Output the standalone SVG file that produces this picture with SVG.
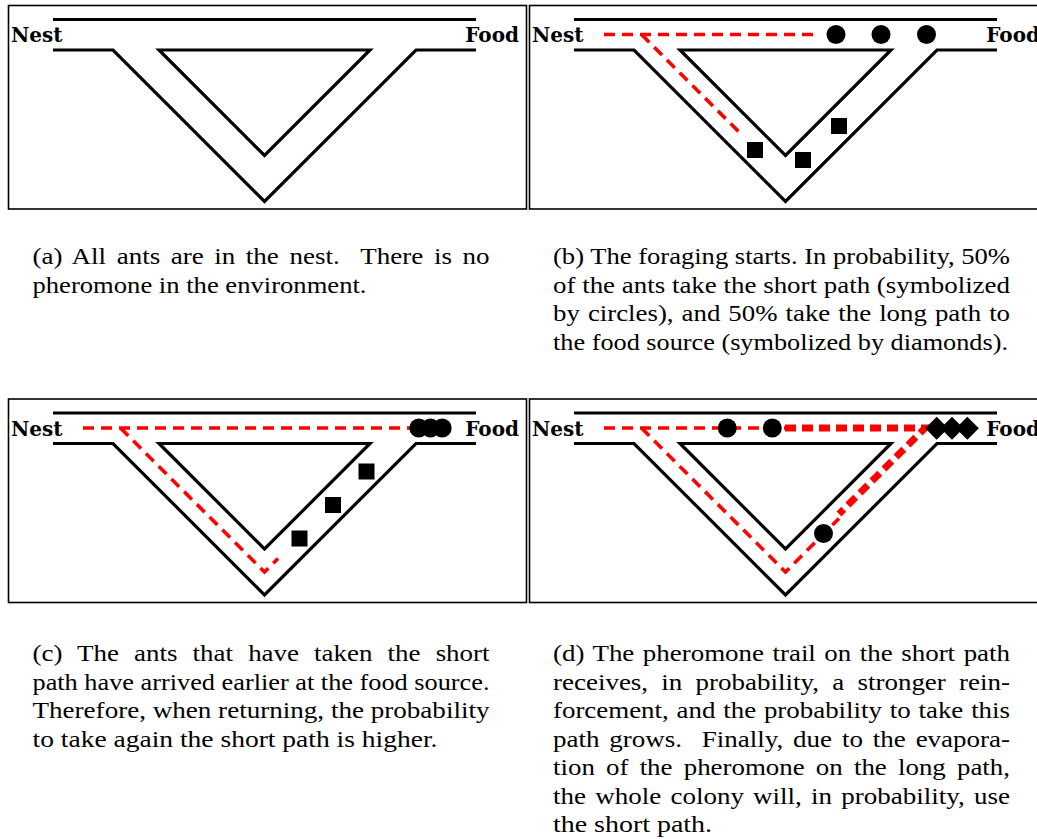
<svg xmlns="http://www.w3.org/2000/svg" width="1037" height="839" viewBox="0 0 1037 839">
<style>
.bg{fill:#fff}
.frame{fill:none;stroke:#000;stroke-width:1.6}
.wall{fill:none;stroke:#000;stroke-width:3.2;stroke-linejoin:miter;stroke-miterlimit:10}
.trail{fill:none;stroke:#f00;stroke-width:3.6;stroke-dasharray:11 7}
.trail-strong{fill:none;stroke:#f00;stroke-width:7;stroke-dasharray:11 6}
.ant{fill:#000}
.lbl{font-family:"DejaVu Serif","Liberation Serif",serif;font-weight:bold;font-size:20px;fill:#000}
.cap{font-family:"Liberation Serif","Times New Roman",serif;font-size:24px;fill:#000}
</style>
<defs>
<g id="track">
<rect class="frame" x="8.5" y="5.5" width="518" height="203.5"/>
<path class="wall" d="M53 19.5H476"/>
<path class="wall" d="M53 50H113L264.5 201.5L416 50H476"/>
<path class="wall" d="M159 50H370L264.5 155.5Z"/>
</g>
<rect id="sq" x="-8" y="-8" width="16" height="16"/>
<circle id="circ" r="9.5"/>
<path id="dia" d="M0 -11.5L11.5 0L0 11.5L-11.5 0Z"/>
</defs>
<rect class="bg" x="0" y="0" width="1037" height="839"/>

<g id="panel-a">
<use href="#track"/>
<text class="lbl" x="11" y="42">Nest</text>
<text class="lbl" x="519" y="42" text-anchor="end">Food</text>
</g>

<g id="panel-b" transform="translate(521,0)">
<use href="#track"/>
<text class="lbl" x="11" y="42">Nest</text>
<text class="lbl" x="519" y="42" text-anchor="end">Food</text>
<g id="trails-b">
<path class="trail" d="M83 34.5H294M120.5 34.5L219 133"/>
</g>
<g id="ants-b" class="ant">
<use href="#circ" x="315" y="34.5"/>
<use href="#circ" x="360" y="34.5"/>
<use href="#circ" x="405.5" y="34.5"/>
<use href="#sq" x="234" y="150"/>
<use href="#sq" x="282" y="160"/>
<use href="#sq" x="318" y="126"/>
</g>
</g>

<g id="panel-c" transform="translate(0,393.5)">
<use href="#track"/>
<text class="lbl" x="11" y="42">Nest</text>
<text class="lbl" x="519" y="42" text-anchor="end">Food</text>
<g id="trails-c">
<path class="trail" d="M83 34.5H410M120.5 34.5L264.5 178.5L278 165"/>
</g>
<g id="ants-c" class="ant">
<use href="#circ" x="418.8" y="34.5"/>
<use href="#circ" x="430.5" y="34.5"/>
<use href="#circ" x="442.2" y="34.5"/>
<use href="#sq" x="366.5" y="78"/>
<use href="#sq" x="333" y="111.5"/>
<use href="#sq" x="299.5" y="145"/>
</g>
</g>

<g id="panel-d" transform="translate(521,393.5)">
<use href="#track"/>
<text class="lbl" x="11" y="42">Nest</text>
<text class="lbl" x="519" y="42" text-anchor="end">Food</text>
<g id="trails-d">
<path class="trail" d="M83 34.5H266M120.5 34.5L264.5 178.5L318 125"/>
<path class="trail-strong" d="M264 34.5H404L318 120.5"/>
</g>
<g id="ants-d" class="ant">
<use href="#circ" x="206.3" y="34.5"/>
<use href="#circ" x="251.3" y="34.5"/>
<use href="#circ" x="302.5" y="140"/>
<use href="#dia" x="415.7" y="34.8"/>
<use href="#dia" x="431" y="34.8"/>
<use href="#dia" x="446.3" y="34.8"/>
</g>
</g>

<g id="captions" class="cap">
<g id="caption-a">
<text x="32.5" y="264" textLength="457" lengthAdjust="spacingAndGlyphs" style="word-spacing:3.4px">(a) All ants are in the nest.&#160; There is no</text>
<text x="32.5" y="292.5" textLength="334" lengthAdjust="spacingAndGlyphs">pheromone in the environment.</text>
</g>
<g id="caption-b">
<text x="553" y="264" textLength="457" lengthAdjust="spacingAndGlyphs">(b) The foraging starts. In probability, 50%</text>
<text x="553" y="292.5" textLength="457" lengthAdjust="spacingAndGlyphs">of the ants take the short path (symbolized</text>
<text x="553" y="321" textLength="457" lengthAdjust="spacingAndGlyphs" style="word-spacing:1.2px">by circles), and 50% take the long path to</text>
<text x="553" y="349.5" textLength="455" lengthAdjust="spacingAndGlyphs">the food source (symbolized by diamonds).</text>
</g>
<g id="caption-c">
<text x="32.5" y="661" textLength="457" lengthAdjust="spacingAndGlyphs" style="word-spacing:7.5px">(c) The ants that have taken the short</text>
<text x="32.5" y="689.5" textLength="457" lengthAdjust="spacingAndGlyphs">path have arrived earlier at the food source.</text>
<text x="32.5" y="718" textLength="457" lengthAdjust="spacingAndGlyphs">Therefore, when returning, the probability</text>
<text x="32.5" y="746.5" textLength="405" lengthAdjust="spacingAndGlyphs">to take again the short path is higher.</text>
</g>
<g id="caption-d">
<text x="553" y="661" textLength="457" lengthAdjust="spacingAndGlyphs" style="word-spacing:1.6px">(d) The pheromone trail on the short path</text>
<text x="553" y="689.5" textLength="457" lengthAdjust="spacingAndGlyphs" style="word-spacing:5.8px">receives, in probability, a stronger rein-</text>
<text x="553" y="718" textLength="457" lengthAdjust="spacingAndGlyphs" style="word-spacing:1px">forcement, and the probability to take this</text>
<text x="553" y="746.5" textLength="457" lengthAdjust="spacingAndGlyphs" style="word-spacing:2.8px">path grows.&#160; Finally, due to the evapora-</text>
<text x="553" y="775" textLength="457" lengthAdjust="spacingAndGlyphs" style="word-spacing:4px">tion of the pheromone on the long path,</text>
<text x="553" y="803.5" textLength="457" lengthAdjust="spacingAndGlyphs" style="word-spacing:2.2px">the whole colony will, in probability, use</text>
<text x="553" y="832" textLength="159" lengthAdjust="spacingAndGlyphs">the short path.</text>
</g>
</g>
</svg>
